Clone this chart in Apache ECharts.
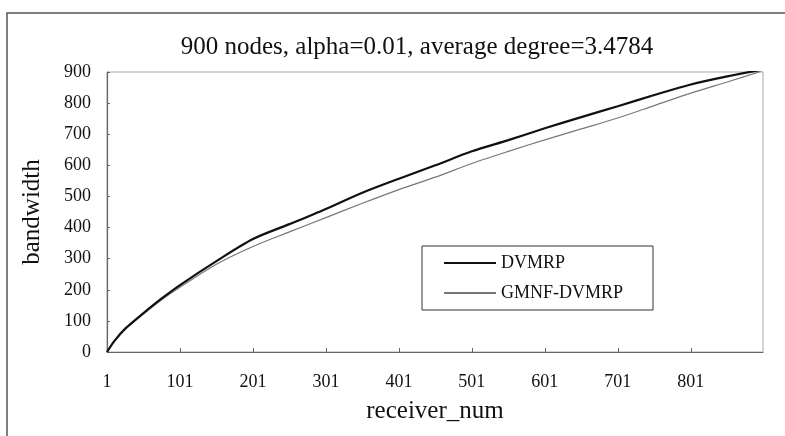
<!DOCTYPE html>
<html>
<head>
<meta charset="utf-8">
<script src="https://cdn.jsdelivr.net/npm/echarts@6/dist/echarts.min.js"></script>
<style>
  html, body { margin: 0; padding: 0; background: #fff; }
  #main { width: 785px; height: 436px; }
</style>
</head>
<body>
<div id="main"></div>
<script>
var receivers = [1, 11, 26, 51, 76, 101, 151, 201, 251, 301, 351, 401, 451, 501, 551, 601, 651, 701, 751, 801, 851, 900];
var dvmrp = [0, 35, 75, 125, 172, 215, 292, 363, 411, 460, 512, 557, 600, 645, 681, 719, 755, 790, 826, 860, 886, 908];
var gmnf = [0, 34, 73, 122, 168, 208, 282, 339, 386, 432, 478, 522, 562, 606, 645, 682, 717, 752, 792, 832, 868, 904];
var yTicks = [0, 100, 200, 300, 400, 500, 600, 700, 800, 900];

var serif = 'Liberation Serif';

// x axis runs on receiver-1 so ticks start at 0 and label as 1, 101, ...
function pairs(vals) {
    return receivers.map(function (r, i) { return [r - 1, vals[i]]; });
}

var chart = echarts.init(document.getElementById('main'));

var option = {
    animation: false,
    backgroundColor: '#fff',
    graphic: [{
        type: 'rect',
        shape: { x: 7, y: 13, width: 820, height: 460 },
        style: { fill: 'none', stroke: '#555', lineWidth: 1.5 },
        silent: true
    }],
    title: {
        text: '900 nodes, alpha=0.01, average degree=3.4784',
        left: 412,
        textAlign: 'center',
        top: 30,
        textStyle: { fontFamily: serif, fontSize: 25, fontWeight: 'normal', color: '#111' }
    },
    legend: {
        orient: 'vertical',
        left: 422,
        top: 246,
        padding: [8, 30, 8, 21],
        itemWidth: 52,
        itemHeight: 14,
        itemGap: 12,
        borderColor: '#333',
        borderWidth: 1,
        itemStyle: { opacity: 0 },
        textStyle: { fontFamily: serif, fontSize: 18, color: '#111' },
        data: ['DVMRP', 'GMNF-DVMRP']
    },
    grid: {
        left: 107,
        right: 22,
        top: 72,
        bottom: 84,
        show: true,
        borderColor: '#aaa',
        borderWidth: 1
    },
    xAxis: {
        type: 'value',
        min: 0,
        max: 899,
        interval: 100,
        name: 'receiver_num',
        nameLocation: 'middle',
        nameGap: 47,
        nameTextStyle: { fontFamily: serif, fontSize: 25, color: '#111' },
        axisLine: { lineStyle: { color: '#666', width: 1.2 } },
        axisTick: { inside: true, length: 4, lineStyle: { color: '#666' } },
        axisLabel: {
            margin: 21,
            showMaxLabel: false,
            fontFamily: serif,
            fontSize: 18,
            color: '#111',
            formatter: function (v) { return String(v + 1); }
        },
        splitLine: { show: false }
    },
    yAxis: {
        type: 'value',
        min: yTicks[0],
        max: yTicks[yTicks.length - 1],
        interval: 100,
        name: 'bandwidth',
        nameLocation: 'middle',
        nameGap: 62,
        nameRotate: 90,
        nameTextStyle: { fontFamily: serif, fontSize: 25, color: '#111' },
        axisLine: { show: true, lineStyle: { color: '#666', width: 1.2 } },
        axisTick: { show: true, inside: true, length: 3, lineStyle: { color: '#666' } },
        axisLabel: { margin: 16, fontFamily: serif, fontSize: 18, color: '#111' },
        splitLine: { show: false }
    },
    series: [{
        name: 'DVMRP',
        type: 'line',
        symbol: 'none',
        smooth: 0.3,
        data: pairs(dvmrp),
        lineStyle: { color: '#111', width: 2.2 },
        itemStyle: { color: '#111' },
        z: 3
    }, {
        name: 'GMNF-DVMRP',
        type: 'line',
        symbol: 'none',
        smooth: 0.3,
        data: pairs(gmnf),
        lineStyle: { color: '#777', width: 1.2 },
        itemStyle: { color: '#777' },
        z: 2
    }]
};

chart.setOption(option);
</script>
</body>
</html>
